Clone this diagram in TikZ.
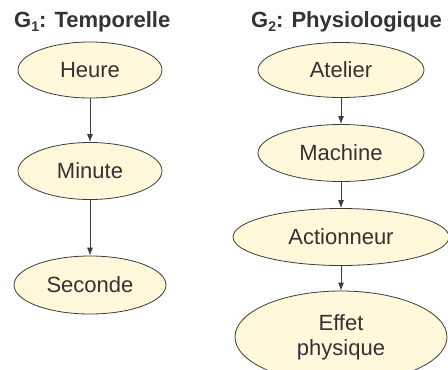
\documentclass[tikz,border=0pt]{standalone}
\usepackage{fontspec}
\setmainfont{Liberation Sans}
\usepackage{tikz}
\usetikzlibrary{arrows.meta}
\tikzset{>={Latex[length=8pt, width=6pt]}}
\usetikzlibrary{shapes.geometric}
\definecolor{bulle}{HTML}{FFF8DA}
\definecolor{trait}{HTML}{3C3C3C}
\definecolor{texte}{HTML}{333333}
\newcommand{\indice}[1]{\raisebox{-4pt}{\fontsize{14}{14}\selectfont #1}}
\tikzset{niveau/.style={ellipse, draw=trait, fill=bulle, text=texte, line width=0.8pt, inner sep=0pt, font=\fontsize{22}{25}\selectfont, align=center}}
\tikzset{titre/.style={anchor=base west, inner sep=0pt, text=texte, font=\fontsize{22}{25}\selectfont\bfseries}}

\begin{document}
\begin{tikzpicture}[x=1pt, y=-1pt]
            \useasboundingbox (0, 0) rectangle (448, 370);
            \clip (0, 0) rectangle (448, 370);
            % G1
            \node[titre] (t1) at (14, 27) {G\indice{1}: Temporelle};
            \node[niveau, minimum width=144, minimum height=56] (heure) at (90, 70) {Heure};
            \node[niveau, minimum width=144, minimum height=57] (minute) at (90, 171) {Minute};
            \node[niveau, minimum width=152, minimum height=58] (seconde) at (90, 285) {Seconde};
            \draw[->, trait, line width=0.8pt] (heure) -- (minute);
            \draw[->, trait, line width=0.8pt] (minute) -- (seconde);
            % G2
            \node[titre] (t2) at (251, 27) {G\indice{2}: Physiologique};
            \node[niveau, minimum width=166, minimum height=55] (atelier) at (341, 70) {Atelier};
            \node[niveau, minimum width=166, minimum height=57] (machine) at (341, 153) {Machine};
            \node[niveau, minimum width=216, minimum height=57] (actionneur) at (341, 237) {Actionneur};
            \node[niveau, minimum width=212, minimum height=92] (effet) at (341, 337) {Effet\\physique};
            \draw[->, trait, line width=0.8pt] (atelier) -- (machine);
            \draw[->, trait, line width=0.8pt] (machine) -- (actionneur);
            \draw[->, trait, line width=0.8pt] (actionneur) -- (effet);
        \end{tikzpicture}
\end{document}
